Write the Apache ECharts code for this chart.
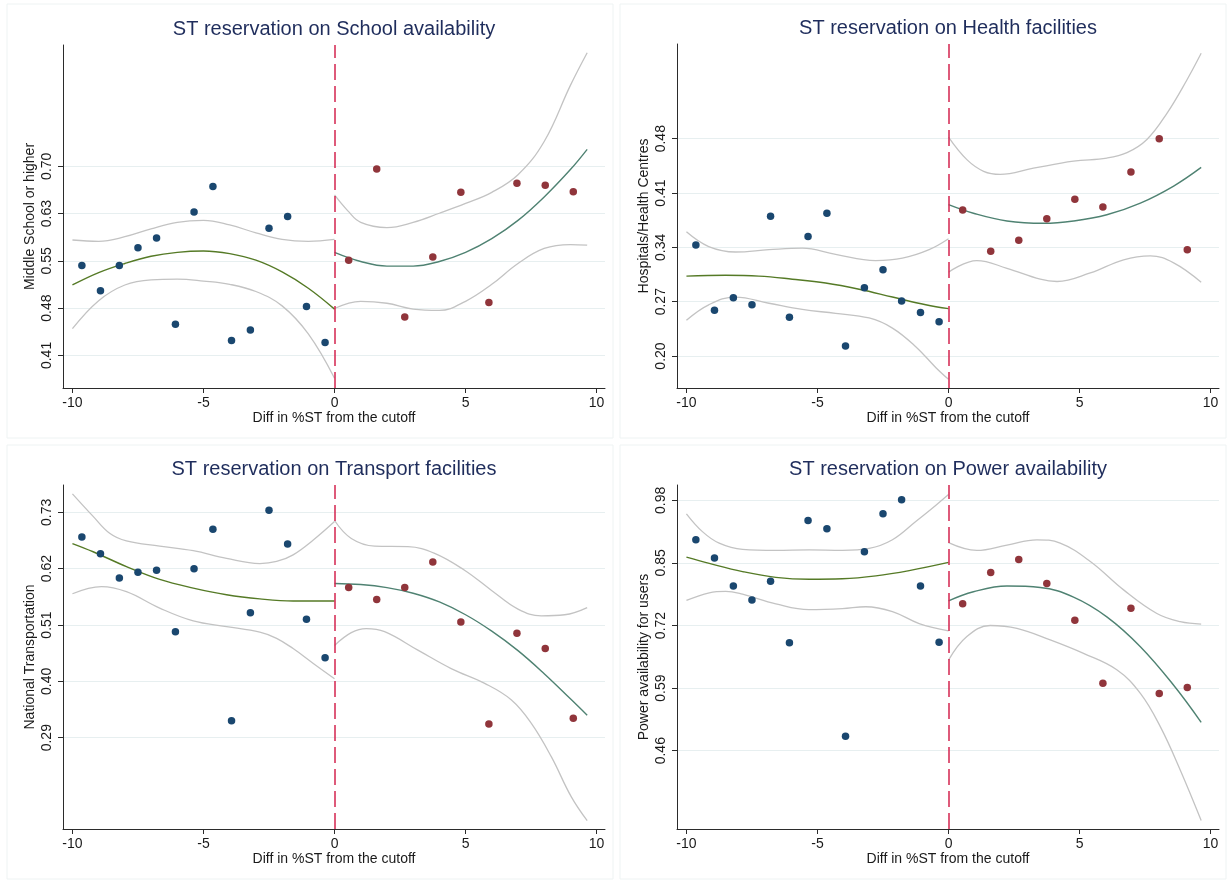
<!DOCTYPE html>
<html>
<head>
<meta charset="utf-8">
<title>ST reservation RD plots</title>
<script src="https://cdn.jsdelivr.net/npm/echarts@6/dist/echarts.min.js"></script>
<style>
  html, body { margin: 0; padding: 0; background: #ffffff; }
  #chart { width: 1232px; height: 882px; }
</style>
</head>
<body>
<div id="chart"></div>
<script>
// ---- Bin positions (running variable: Diff in %ST from the cutoff) ----
const xLeft  = [-9.64, -8.93, -8.21, -7.50, -6.79, -6.07, -5.36, -4.64, -3.93, -3.21, -2.50, -1.79, -1.07, -0.36];
const xRight = [0.54, 1.61, 2.68, 3.75, 4.82, 5.89, 6.96, 8.04, 9.11];
const xTicks = [-10, -5, 0, 5, 10];

// ---- School availability ----
const schoolLeft  = [0.548, 0.509, 0.548, 0.575, 0.590, 0.458, 0.630, 0.669, 0.433, 0.449, 0.605, 0.623, 0.485, 0.430];
const schoolRight = [0.556, 0.696, 0.469, 0.561, 0.660, 0.491, 0.674, 0.671, 0.661];
const schoolFitL = [[-10,0.518],[-9,0.537],[-8,0.551],[-7,0.562],[-6,0.568],[-5,0.570],[-4,0.566],[-3,0.556],[-2,0.538],[-1,0.513],[0,0.481]];
const schoolUpL  = [[-10,0.587],[-9,0.585],[-8,0.592],[-7,0.604],[-6,0.614],[-5,0.617],[-4,0.610],[-3,0.598],[-2,0.588],[-1,0.585],[0,0.588]];
const schoolLoL  = [[-10,0.451],[-9,0.494],[-8,0.518],[-7,0.526],[-6,0.527],[-5,0.524],[-4,0.519],[-3,0.508],[-2,0.486],[-1,0.443],[0,0.375]];
const schoolFitR = [[0,0.568],[1,0.554],[2,0.547],[3,0.547],[4,0.554],[5,0.568],[6,0.589],[7,0.617],[8,0.653],[9,0.695],[9.64,0.726]];
const schoolUpR  = [[0,0.656],[0.5,0.632],[1,0.614],[2,0.606],[3,0.614],[4,0.628],[5,0.643],[6,0.660],[7,0.687],[8,0.738],[9,0.824],[9.64,0.874]];
const schoolLoR  = [[0,0.482],[1,0.493],[2,0.490],[3,0.481],[4,0.479],[5,0.493],[6,0.519],[7,0.551],[8,0.574],[9,0.580],[9.64,0.579]];
const schoolTicks = [0.41, 0.4825, 0.555, 0.6275, 0.70];
const schoolTickLabels = ['0.41', '0.48', '0.55', '0.63', '0.70'];

// ---- Health facilities ----
const healthLeft  = [0.343, 0.259, 0.275, 0.266, 0.380, 0.250, 0.354, 0.384, 0.213, 0.288, 0.311, 0.271, 0.256, 0.244];
const healthRight = [0.388, 0.335, 0.349, 0.377, 0.402, 0.392, 0.437, 0.480, 0.337];
const healthFitL = [[-10,0.303],[-8.51,0.304],[-7.24,0.303],[-5.96,0.299],[-4.69,0.294],[-3.41,0.286],[-2.14,0.276],[-0.87,0.266],[0,0.261]];
const healthUpL  = [[-10,0.360],[-9.15,0.341],[-8.13,0.334],[-6.85,0.337],[-5.58,0.339],[-4.31,0.331],[-2.78,0.323],[-1.76,0.326],[-0.74,0.337],[0,0.351]];
const healthLoL  = [[-10,0.246],[-9.15,0.266],[-8.13,0.276],[-6.85,0.268],[-5.58,0.260],[-4.31,0.255],[-3.03,0.249],[-2.14,0.236],[-1.25,0.212],[-0.48,0.185],[0,0.170]];
const healthFitR = [[0,0.395],[0.95,0.384],[2.23,0.374],[3.63,0.371],[4.77,0.374],[6.04,0.382],[7.32,0.397],[8.59,0.419],[9.64,0.443]];
const healthUpR  = [[0,0.482],[0.70,0.453],[1.34,0.438],[1.97,0.434],[3.24,0.442],[4.77,0.451],[6.04,0.455],[6.81,0.462],[7.57,0.479],[8.34,0.513],[9.10,0.556],[9.64,0.590]];
const healthLoR  = [[0,0.308],[1.08,0.323],[2.23,0.313],[3.50,0.299],[4.14,0.296],[5.41,0.307],[6.68,0.324],[7.70,0.329],[8.59,0.320],[9.64,0.295]];
const healthTicks = [0.20, 0.27, 0.34, 0.41, 0.48];
const healthTickLabels = ['0.20', '0.27', '0.34', '0.41', '0.48'];

// ---- Transport facilities ----
const transportLeft  = [0.682, 0.649, 0.602, 0.613, 0.617, 0.497, 0.620, 0.697, 0.323, 0.534, 0.734, 0.668, 0.521, 0.446];
const transportRight = [0.583, 0.560, 0.583, 0.633, 0.516, 0.317, 0.494, 0.464, 0.328];
const transportFitL = [[-10,0.669],[-9.21,0.653],[-7.94,0.624],[-6.67,0.599],[-5.39,0.582],[-4.12,0.569],[-2.85,0.561],[-1.58,0.557],[0,0.557]];
const transportUpL  = [[-10,0.766],[-9.21,0.722],[-8.58,0.689],[-7.94,0.674],[-6.67,0.664],[-5.39,0.655],[-4.12,0.640],[-2.85,0.630],[-2.21,0.634],[-1.58,0.647],[-0.81,0.676],[0,0.712]];
const transportLoL  = [[-10,0.571],[-8.89,0.585],[-7.94,0.575],[-6.67,0.543],[-5.39,0.518],[-4.12,0.507],[-2.85,0.496],[-2.21,0.484],[-1.58,0.464],[-0.81,0.435],[0,0.405]];
const transportFitR = [[0,0.591],[1,0.589],[2,0.583],[3,0.572],[4,0.555],[5,0.530],[6,0.498],[7,0.460],[8,0.415],[9,0.366],[9.64,0.334]];
const transportUpR  = [[0,0.714],[0.64,0.679],[1.53,0.664],[2.80,0.663],[3.82,0.650],[4.96,0.617],[5.98,0.578],[7.00,0.541],[7.89,0.528],[8.78,0.530],[9.64,0.544]];
const transportLoR  = [[0,0.470],[0.64,0.495],[1.21,0.503],[1.91,0.497],[3.18,0.461],[4.45,0.425],[5.73,0.396],[6.74,0.364],[7.51,0.318],[8.27,0.253],[9.03,0.175],[9.64,0.128]];
const transportTicks = [0.29, 0.40, 0.51, 0.62, 0.73];
const transportTickLabels = ['0.29', '0.40', '0.51', '0.62', '0.73'];

// ---- Power availability ----
const powerLeft  = [0.898, 0.860, 0.802, 0.773, 0.812, 0.684, 0.938, 0.921, 0.490, 0.873, 0.952, 0.981, 0.802, 0.685];
const powerRight = [0.765, 0.830, 0.857, 0.807, 0.731, 0.600, 0.756, 0.579, 0.591];
const powerFitL = [[-10,0.862],[-9.13,0.849],[-7.86,0.832],[-6.59,0.820],[-5.32,0.816],[-4.05,0.817],[-2.77,0.823],[-1.50,0.834],[0,0.851]];
const powerUpL  = [[-10,0.952],[-9.39,0.915],[-8.75,0.891],[-7.86,0.878],[-6.59,0.876],[-5.32,0.877],[-4.05,0.876],[-3.03,0.880],[-2.14,0.898],[-1.25,0.936],[-0.48,0.970],[0,0.992]];
const powerLoL  = [[-10,0.772],[-9.13,0.788],[-8.50,0.791],[-7.86,0.785],[-6.59,0.765],[-5.32,0.753],[-4.05,0.755],[-3.16,0.759],[-2.14,0.749],[-1.12,0.724],[0,0.709]];
const powerFitR = [[0,0.771],[0.95,0.790],[2.23,0.802],[3.50,0.799],[4.77,0.779],[6.04,0.738],[7.32,0.676],[8.59,0.596],[9.64,0.519]];
const powerUpR  = [[0,0.892],[1.08,0.876],[2.23,0.887],[3.37,0.898],[4.26,0.891],[5.41,0.853],[6.68,0.794],[7.95,0.745],[8.84,0.728],[9.64,0.723]];
const powerLoR  = [[0,0.648],[0.70,0.697],[1.59,0.720],[2.61,0.714],[3.88,0.690],[5.15,0.662],[6.42,0.628],[7.32,0.579],[8.08,0.510],[8.84,0.420],[9.64,0.315]];
const powerTicks = [0.46, 0.59, 0.72, 0.85, 0.98];
const powerTickLabels = ['0.46', '0.59', '0.72', '0.85', '0.98'];

// ---- Styling ----
const FONT = "'Liberation Sans', Arial, Helvetica, sans-serif";
const NAVY = '#1a476f';
const MAROON = '#90353b';
const FIT_LEFT = '#557a26';
const FIT_RIGHT = '#4f8272';
const CI_GRAY = '#c3c3c3';
const CUTOFF = '#d3254f';
const TITLE_COLOR = '#1f2d5c';
const GRID_LINE = '#e7eff0';
const AXIS_COLOR = '#2b2b2b';

const panels = [
  { title: 'ST reservation on School availability', yName: 'Middle School or higher',
    left: schoolLeft, right: schoolRight, fitL: schoolFitL, upL: schoolUpL, loL: schoolLoL,
    fitR: schoolFitR, upR: schoolUpR, loR: schoolLoR, ticks: schoolTicks, tickLabels: schoolTickLabels,
    yMin: 0.3601, yMax: 0.8859, box: { left: 63, top: 45, width: 542, height: 343 } },
  { title: 'ST reservation on Health facilities', yName: 'Hospitals/Health Centres',
    left: healthLeft, right: healthRight, fitL: healthFitL, upL: healthUpL, loL: healthLoL,
    fitR: healthFitR, upR: healthUpR, loR: healthLoR, ticks: healthTicks, tickLabels: healthTickLabels,
    yMin: 0.1588, yMax: 0.602, box: { left: 677, top: 44, width: 542, height: 344 } },
  { title: 'ST reservation on Transport facilities', yName: 'National Transportation',
    left: transportLeft, right: transportRight, fitL: transportFitL, upL: transportUpL, loL: transportLoL,
    fitR: transportFitR, upR: transportUpR, loR: transportLoR, ticks: transportTicks, tickLabels: transportTickLabels,
    yMin: 0.1118, yMax: 0.7833, box: { left: 63, top: 485, width: 542, height: 344 } },
  { title: 'ST reservation on Power availability', yName: 'Power availability for users',
    left: powerLeft, right: powerRight, fitL: powerFitL, upL: powerUpL, loL: powerLoL,
    fitR: powerFitR, upR: powerUpR, loR: powerLoR, ticks: powerTicks, tickLabels: powerTickLabels,
    yMin: 0.2974, yMax: 1.0118, box: { left: 677, top: 485, width: 542, height: 344 } }
];

const grids = [], xAxes = [], yAxes = [], titles = [], series = [], graphics = [];

// faint frame around each sub-graph
[[7, 4, 606, 434], [620, 4, 606, 434], [7, 445, 606, 434], [620, 445, 606, 434]].forEach(r => {
  graphics.push({ type: 'rect', silent: true, z: -1,
    shape: { x: r[0], y: r[1], width: r[2], height: r[3] },
    style: { fill: 'none', stroke: '#eef3f3', lineWidth: 1 } });
});

panels.forEach((p, i) => {
  const b = p.box;
  grids.push({ left: b.left, top: b.top, width: b.width, height: b.height, containLabel: false });
  titles.push({
    text: p.title, left: b.left + b.width / 2, top: b.top - 26, textAlign: 'center', padding: 0,
    textStyle: { fontFamily: FONT, fontSize: 20, fontWeight: 'normal', color: TITLE_COLOR }
  });
  xAxes.push({
    type: 'value', gridIndex: i, min: -10.36, max: 10.32,
    name: 'Diff in %ST from the cutoff', nameLocation: 'middle', nameGap: 23,
    nameTextStyle: { fontFamily: FONT, fontSize: 14, color: '#1a1a1a' },
    axisLine: { show: true, onZero: false, lineStyle: { color: AXIS_COLOR, width: 1 } },
    axisTick: { show: true, length: 5, customValues: xTicks, lineStyle: { color: AXIS_COLOR } },
    axisLabel: { customValues: xTicks, margin: 8, fontFamily: FONT, fontSize: 14, color: '#1a1a1a',
      formatter: v => String(v) },
    splitLine: { show: false }
  });
  yAxes.push({
    type: 'value', gridIndex: i, min: p.yMin, max: p.yMax,
    name: p.yName, nameLocation: 'middle', nameRotate: 90, nameGap: 26,
    nameTextStyle: { fontFamily: FONT, fontSize: 14, color: '#1a1a1a' },
    axisLine: { show: true, onZero: false, lineStyle: { color: AXIS_COLOR, width: 1 } },
    axisTick: { show: true, length: 5, customValues: p.ticks, lineStyle: { color: AXIS_COLOR } },
    axisLabel: { customValues: p.ticks, rotate: 90, margin: 9, fontFamily: FONT, fontSize: 14, color: '#1a1a1a',
      formatter: v => {
        const k = p.ticks.findIndex(t => Math.abs(t - v) < 1e-6);
        return k >= 0 ? p.tickLabels[k] : '';
      } },
    splitLine: { show: true, lineStyle: { color: GRID_LINE, width: 1.2 } }
  });

  const ci = (data) => ({
    type: 'line', xAxisIndex: i, yAxisIndex: i, data, smooth: 0.4, showSymbol: false, silent: true,
    lineStyle: { color: CI_GRAY, width: 1.3 }, z: 2
  });
  series.push(ci(p.upL), ci(p.loL), ci(p.upR), ci(p.loR));
  series.push({
    type: 'line', xAxisIndex: i, yAxisIndex: i, data: p.fitL, smooth: 0.4, showSymbol: false, silent: true,
    lineStyle: { color: FIT_LEFT, width: 1.4 }, z: 3
  });
  series.push({
    type: 'line', xAxisIndex: i, yAxisIndex: i, data: p.fitR, smooth: 0.4, showSymbol: false, silent: true,
    lineStyle: { color: FIT_RIGHT, width: 1.4 }, z: 3
  });
  series.push({
    type: 'scatter', xAxisIndex: i, yAxisIndex: i, symbolSize: 7.5, z: 5,
    itemStyle: { color: NAVY, opacity: 1 },
    data: xLeft.map((x, k) => [x, p.left[k]]),
    markLine: {
      silent: true, symbol: 'none', animation: false,
      label: { show: false },
      lineStyle: { color: CUTOFF, width: 1.5, type: [16, 6] },
      data: [{ xAxis: 0 }]
    }
  });
  series.push({
    type: 'scatter', xAxisIndex: i, yAxisIndex: i, symbolSize: 7.5, z: 5,
    itemStyle: { color: MAROON, opacity: 1 },
    data: xRight.map((x, k) => [x, p.right[k]])
  });
});

const chart = echarts.init(document.getElementById('chart'), null, { renderer: 'canvas' });
chart.setOption({
  animation: false,
  backgroundColor: '#ffffff',
  title: titles,
  grid: grids,
  xAxis: xAxes,
  yAxis: yAxes,
  series: series,
  graphic: graphics
});
</script>
</body>
</html>
